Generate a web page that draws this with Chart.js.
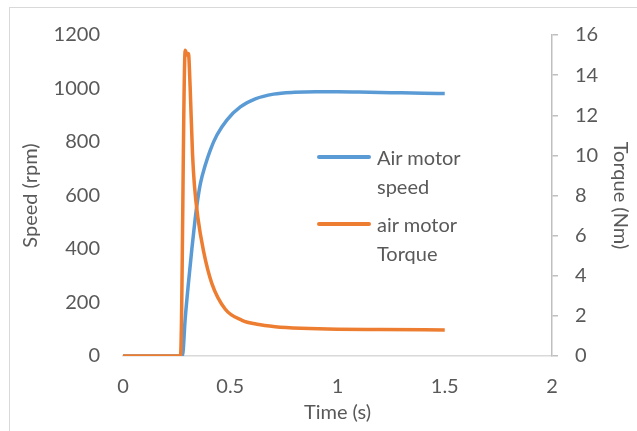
<!DOCTYPE html>
<html>
<head>
<meta charset="utf-8">
<script src="https://cdn.jsdelivr.net/npm/chart.js@4/dist/chart.umd.min.js"></script>
<style>
  html, body { margin: 0; padding: 0; background: #fff; }
  #wrap { position: relative; width: 637px; height: 431px; overflow: hidden; }
  #frame { position: absolute; left: 9px; top: 7px; width: 700px; height: 500px; border: 1px solid #d9d9d9; }
  #chart { position: absolute; left: 0; top: 0; }
  #legend { position: absolute; left: 317px; top: 143px; font-family: Lato, sans-serif; font-size: 20px; color: #595959; }
  .item { display: flex; align-items: flex-start; margin-bottom: 9px; }
  .swatch { width: 54px; height: 4px; margin-top: 12px; margin-right: 6px; border-radius: 2px; }
  .txt { width: 100px; line-height: 29px; }
</style>
</head>
<body>
<div id="wrap">
  <div id="frame"></div>
  <canvas id="chart" width="637" height="431"></canvas>
  <div id="legend"></div>
</div>
<script>
// air motor speed (rpm) against time (s)
const speedTimes = [0, 0.277, 0.29, 0.305, 0.321, 0.336, 0.346, 0.361, 0.383, 0.407, 0.438, 0.485,
  0.547, 0.617, 0.702, 0.8, 0.9, 1.0, 1.1, 1.2, 1.3, 1.4, 1.5];
const speedRpm = [0, 0, 140, 272, 400, 510, 572, 645, 712, 770, 826, 883,
  931, 961, 979, 986, 988, 988, 987, 985, 984, 982, 981];

// air motor torque (Nm) against time (s)
const torqueTimes = [0, 0.268, 0.29, 0.299, 0.305, 0.313, 0.324, 0.333, 0.349, 0.375, 0.414, 0.477,
  0.555, 0.625, 0.71, 0.83, 1.0, 1.2, 1.5];
const torqueNm = [0, 0, 15.24, 15.0, 15.08, 13.4, 10.1, 8.5, 6.9, 5.25, 3.62, 2.33,
  1.78, 1.58, 1.46, 1.38, 1.33, 1.32, 1.3];

const seriesNames = ["Air motor speed", "air motor Torque"];
const seriesColors = ["#5B9BD5", "#ED7D31"];
const xTicks = [0, 0.5, 1, 1.5, 2];
const speedTicks = [0, 200, 400, 600, 800, 1000, 1200];
const torqueTicks = [0, 2, 4, 6, 8, 10, 12, 14, 16];

const textColor = "#595959";
const font = { family: "Lato, sans-serif", size: 20 };

function toPoints(xs, ys) {
  return xs.map((t, i) => ({ x: t, y: ys[i] }));
}

const chart = new Chart(document.getElementById("chart"), {
  type: "line",
  data: {
    datasets: [
      {
        label: seriesNames[0], data: toPoints(speedTimes, speedRpm), yAxisID: "ySpeed",
        borderColor: seriesColors[0], backgroundColor: seriesColors[0],
        borderWidth: 3.5, pointRadius: 0, cubicInterpolationMode: "monotone", order: 1
      },
      {
        label: seriesNames[1], data: toPoints(torqueTimes, torqueNm), yAxisID: "yTorque",
        borderColor: seriesColors[1], backgroundColor: seriesColors[1],
        borderWidth: 3.5, pointRadius: 0, cubicInterpolationMode: "monotone", order: 0
      }
    ]
  },
  options: {
    responsive: false,
    animation: false,
    layout: { padding: { top: 26, left: 0, right: 0, bottom: 0 } },
    plugins: { legend: { display: false }, tooltip: { enabled: false } },
    scales: {
      x: {
        type: "linear", min: xTicks[0], max: xTicks[xTicks.length - 1],
        afterBuildTicks: s => { s.ticks = xTicks.map(v => ({ value: v })); },
        afterFit: s => { s.height = 75; },
        grid: { display: false, drawTicks: false },
        border: { display: true, color: "#d9d9d9", width: 1.5 },
        ticks: { color: textColor, font, padding: 19, maxRotation: 0, callback: v => String(v) },
        title: { display: true, text: "Time (s)", color: textColor, font, padding: { top: 0, bottom: 6 } }
      },
      ySpeed: {
        position: "left", min: speedTicks[0], max: speedTicks[speedTicks.length - 1],
        afterBuildTicks: s => { s.ticks = speedTicks.map(v => ({ value: v })); },
        afterFit: s => { s.width = 123; },
        grid: { display: false, drawTicks: false },
        border: { display: false },
        ticks: { color: textColor, font, padding: 23, callback: v => String(v) },
        title: { display: true, text: "Speed (rpm)", color: textColor, font, padding: { top: 19, bottom: 0 } }
      },
      yTorque: {
        position: "right", min: torqueTicks[0], max: torqueTicks[torqueTicks.length - 1],
        afterBuildTicks: s => { s.ticks = torqueTicks.map(v => ({ value: v })); },
        afterFit: s => { s.width = 85; },
        grid: { display: true, drawOnChartArea: false, drawTicks: true, tickLength: 6, color: "#bfbfbf", lineWidth: 1.5 },
        border: { display: true, color: "#bfbfbf", width: 1.5 },
        ticks: { color: textColor, font, padding: 17, callback: v => String(v) },
        title: { display: true, text: "Torque (Nm)", color: textColor, font, padding: { top: 5, bottom: 0 } }
      }
    }
  }
});

// legend drawn as html next to the curves
const legend = document.getElementById("legend");
chart.data.datasets.forEach(ds => {
  const item = document.createElement("div");
  item.className = "item";
  item.innerHTML = `<div class="swatch" style="background:${ds.borderColor}"></div><div class="txt">${ds.label}</div>`;
  legend.appendChild(item);
});
</script>
</body>
</html>
